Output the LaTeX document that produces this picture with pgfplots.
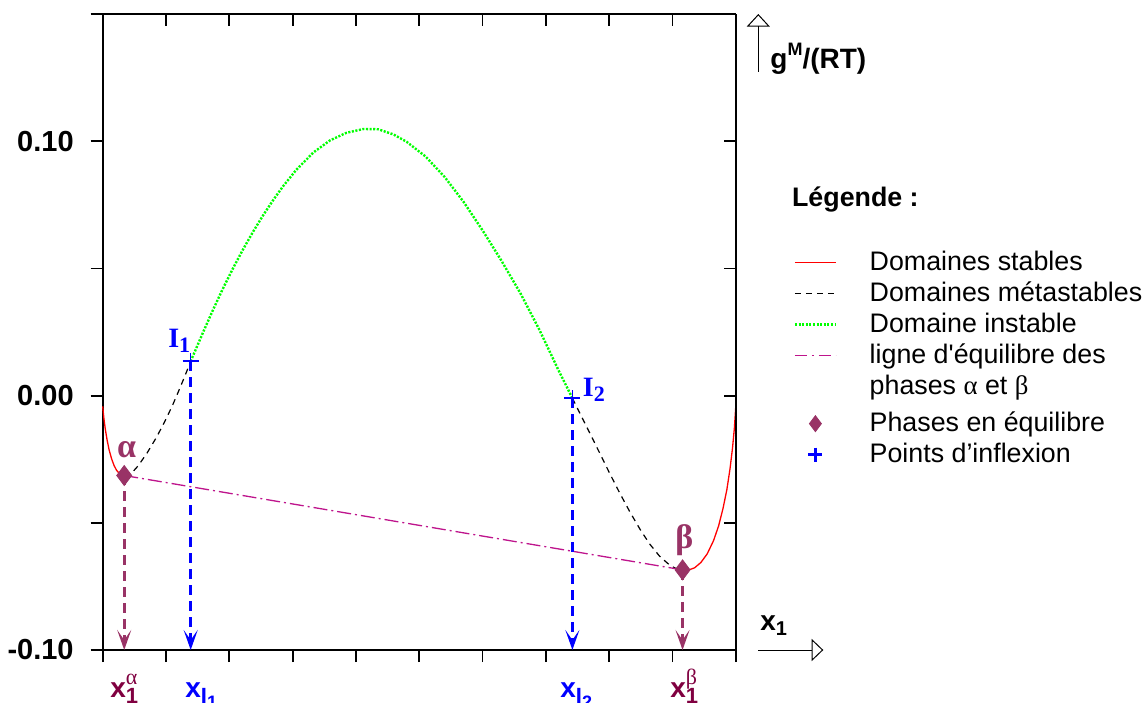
\documentclass[border=0pt]{standalone}
\usepackage{fontspec}
\setmainfont{Liberation Sans}
\newfontfamily\seriffont{Liberation Serif}
\usepackage{pgfplots}
\usepackage{pgfplotstable}
\pgfplotsset{compat=1.18}
\usetikzlibrary{arrows.meta,calc}

\definecolor{stab}{RGB}{255,0,0}
\definecolor{inst}{RGB}{0,255,0}
\definecolor{eqline}{RGB}{190,20,140}
\definecolor{phase}{RGB}{153,51,102}
\definecolor{maroonlab}{RGB}{128,0,64}

\newcommand{\subsup}[2]{\rlap{\raisebox{-3pt}{\fontsize{11}{12}\selectfont #1}}\raisebox{6.5pt}{\fontsize{11}{12}\selectfont\mdseries #2}}

\pgfplotstableread{
x y
0.000 -0.0042
0.002 -0.0092
0.004 -0.0130
0.007 -0.0175
0.010 -0.0212
0.014 -0.0248
0.018 -0.0275
0.022 -0.0294
0.026 -0.0305
0.030 -0.0311
0.034 -0.0314
}\redleft

\pgfplotstableread{
x y
0.034 -0.0314
0.040 -0.0313
0.047 -0.0301
0.056 -0.0276
0.070 -0.0226
0.085 -0.0164
0.098 -0.0102
0.110 -0.0040
0.120 0.0018
0.130 0.0078
0.139 0.0135
}\blackleft

\pgfplotstableread{
x y
0.139 0.0135
0.150 0.0199
0.160 0.0257
0.175 0.0341
0.190 0.0421
0.206 0.0501
0.222 0.0576
0.238 0.0646
0.254 0.0711
0.270 0.0771
0.285 0.0823
0.306 0.0888
0.333 0.0956
0.359 0.1003
0.385 0.1033
0.412 0.1048
0.435 0.1047
0.459 0.1027
0.480 0.0998
0.510 0.0940
0.540 0.0860
0.570 0.0762
0.600 0.0650
0.630 0.0530
0.660 0.0402
0.690 0.0258
0.720 0.0100
0.742 -0.0010
}\green

\pgfplotstableread{
x y
0.742 -0.0010
0.754 -0.0070
0.770 -0.0150
0.786 -0.0230
0.801 -0.0306
0.817 -0.0384
0.833 -0.0458
0.849 -0.0526
0.864 -0.0583
0.880 -0.0632
0.896 -0.0667
0.906 -0.0680
0.916 -0.0685
}\blackright

\pgfplotstableread{
x y
0.916 -0.0685
0.925 -0.0686
0.935 -0.0677
0.945 -0.0656
0.955 -0.0622
0.965 -0.0570
0.973 -0.0512
0.980 -0.0443
0.986 -0.0370
0.991 -0.0288
0.995 -0.0205
0.998 -0.0125
1.000 -0.0047
}\redright

\begin{document}
\begin{tikzpicture}
\begin{axis}[
  name=ax,
  scale only axis, width=316.5pt, height=318pt,
  xmin=0, xmax=1, ymin=-0.1, ymax=0.15,
  axis x line*=bottom, axis y line*=left,
  tick align=outside, major tick length=6pt,
  xtick={0,0.1,0.2,0.3,0.4,0.5,0.6,0.7,0.8,0.9,1},
  xticklabels={},
  ytick={-0.1,-0.05,0,0.05,0.1,0.15},
  yticklabels={-0.10,,0.00,,0.10,},
  yticklabel style={font=\bfseries\fontsize{14.5}{16}\selectfont, xshift=-5pt},
  axis line style={line width=0.8pt},
  every tick/.style={black, line width=0.9pt},
  clip=false,
  legend cell align=left,
  legend image code/.code={\draw[mark repeat=2,mark phase=2,#1] plot coordinates {(0pt,0pt) (10.25pt,0pt) (20.5pt,0pt)};},
  legend style={at={(1.091,0.634)}, anchor=north west, draw=none, fill=none,
    inner sep=0pt, font=\fontsize{13.4}{15}\selectfont, row sep=0pt, column sep=15.3pt,
    nodes={inner sep=1pt, text height=10.5pt, text depth=3pt}},
]
\addplot[stab, line width=0.65pt, forget plot] table {\redleft};
\addplot[stab, line width=0.65pt, forget plot] table {\redright};
\addplot[black, line width=0.6pt, dash pattern=on 3pt off 2.5pt, forget plot] table {\blackleft};
\addplot[black, line width=0.6pt, dash pattern=on 3pt off 2.5pt, forget plot] table {\blackright};
\addplot[inst, line width=1.2pt, dash pattern=on 1.05pt off 0.75pt, forget plot] table {\green};
\addplot[eqline, line width=0.65pt, dash pattern=on 7pt off 2pt on 1pt off 2pt, forget plot] coordinates {(0.034,-0.0314) (0.916,-0.0685)};
% vertical arrows
\addplot[phase, line width=1.3pt, dash pattern=on 5pt off 3pt, -{Stealth[length=10pt,width=7pt,inset=5pt]}, forget plot] coordinates {(0.034,-0.0314) (0.034,-0.1)};
\addplot[phase, line width=1.3pt, dash pattern=on 5pt off 3pt, -{Stealth[length=10pt,width=7pt,inset=5pt]}, forget plot] coordinates {(0.916,-0.0685) (0.916,-0.1)};
\addplot[blue, line width=1.3pt, dash pattern=on 5pt off 3pt, -{Stealth[length=10pt,width=7pt,inset=5pt]}, forget plot] coordinates {(0.139,0.0135) (0.139,-0.1)};
\addplot[blue, line width=1.3pt, dash pattern=on 5pt off 3pt, -{Stealth[length=10pt,width=7pt,inset=5pt]}, forget plot] coordinates {(0.742,-0.001) (0.742,-0.1)};
% points
\addplot[only marks, mark=diamond*, mark size=5pt, phase, forget plot] coordinates {(0.034,-0.0314) (0.916,-0.0685)};
\addplot[only marks, mark=+, mark size=4pt, blue, mark options={line width=0.8pt}, forget plot] coordinates {(0.139,0.0135) (0.742,-0.001)};
% point labels
\node[anchor=base west, inner sep=0pt, text=blue, font=\seriffont\bfseries\fontsize{14}{16}\selectfont] at (axis cs:0.103,0.0189) {I\raisebox{-2.5pt}{\fontsize{11}{12}\selectfont 1}};
\node[anchor=base west, inner sep=0pt, text=blue, font=\seriffont\bfseries\fontsize{14}{16}\selectfont] at (axis cs:0.758,-0.0003) {I\raisebox{-2.5pt}{\fontsize{11}{12}\selectfont 2}};
\node[anchor=base, inner sep=0pt, text=phase, font=\seriffont\bfseries\fontsize{17}{18}\selectfont] at (axis cs:0.0379,-0.0244) {α};
\node[anchor=base, inner sep=0pt, text=phase, font=\seriffont\bfseries\fontsize{17}{18}\selectfont] at (axis cs:0.919,-0.0602) {β};
% bottom labels
\node[anchor=base west, inner sep=0pt, yshift=-23.5pt, text=maroonlab, font=\bfseries\fontsize{14}{16}\selectfont] at (axis cs:0.0115,-0.1) {x\subsup{1}{\seriffont α}};
\node[anchor=base west, inner sep=0pt, yshift=-23.5pt, text=maroonlab, font=\bfseries\fontsize{14}{16}\selectfont] at (axis cs:0.896,-0.1) {x\subsup{1}{\seriffont β}};
\node[anchor=base west, inner sep=0pt, yshift=-23.5pt, text=blue, font=\bfseries\fontsize{14}{16}\selectfont] at (axis cs:0.130,-0.1) {x\raisebox{-3pt}{\fontsize{11}{12}\selectfont I\raisebox{-2.5pt}{\fontsize{9}{10}\selectfont 1}}};
\node[anchor=base west, inner sep=0pt, yshift=-23.5pt, text=blue, font=\bfseries\fontsize{14}{16}\selectfont] at (axis cs:0.7224,-0.1) {x\raisebox{-3pt}{\fontsize{11}{12}\selectfont I\raisebox{-2.5pt}{\fontsize{9}{10}\selectfont 2}}};
% legend
\addlegendimage{stab, line width=0.7pt}
\addlegendentry{Domaines stables}
\addlegendimage{black, line width=0.6pt, dash pattern=on 3pt off 2.5pt}
\addlegendentry{Domaines métastables}
\addlegendimage{inst, line width=1.2pt, dash pattern=on 1.05pt off 0.75pt}
\addlegendentry{Domaine instable}
\addlegendimage{eqline, line width=0.8pt, dash pattern=on 6pt off 2.5pt on 1pt off 2.5pt}
\addlegendentry{ligne d\textquotesingle équilibre des}
\addlegendimage{empty legend}
\addlegendentry[text depth=6pt]{phases {\seriffont α} et {\seriffont β}}
\addlegendimage{only marks, mark=diamond*, mark size=4pt, phase}
\addlegendentry{Phases en équilibre}
\addlegendimage{only marks, mark=+, mark size=3.5pt, blue, mark options={line width=1.5pt}}
\addlegendentry{Points d’inflexion}
\end{axis}
\begin{axis}[
  scale only axis, width=316.5pt, height=318pt,
  xmin=0, xmax=1, ymin=-0.1, ymax=0.15,
  axis x line*=top, axis y line*=right,
  tick align=inside, major tick length=6pt,
  xtick={0,0.1,0.2,0.3,0.4,0.5,0.6,0.7,0.8,0.9,1},
  ytick={-0.1,-0.05,0,0.05,0.1,0.15},
  xticklabels={}, yticklabels={},
  axis line style={line width=0.8pt},
  every tick/.style={black, line width=0.9pt},
]
\end{axis}
% axis labels with arrows
\draw[line width=0.5pt, -{Triangle[open,length=6.3pt,width=11.5pt]}] ($(ax.north east)+(11.3pt,-28.85pt)$) -- ($(ax.north east)+(11.3pt,0pt)$);
\node[anchor=base west, inner sep=0pt, font=\bfseries\fontsize{14}{16}\selectfont] at ($(ax.north east)+(17.15pt,-27.15pt)$) {g\raisebox{6.5pt}{\fontsize{9}{10}\selectfont M}/(RT)};
\draw[line width=0.5pt, -{Triangle[open,length=5.8pt,width=11pt]}] ($(ax.south east)+(11.3pt,0pt)$) -- ($(ax.south east)+(43.8pt,0pt)$);
\node[anchor=base west, inner sep=0pt, font=\bfseries\fontsize{14}{16}\selectfont] at ($(ax.south east)+(12.15pt,10pt)$) {x\raisebox{-2.5pt}{\fontsize{10}{12}\selectfont 1}};
\node[anchor=base west, inner sep=0pt, font=\bfseries\fontsize{13.4}{15}\selectfont] at ($(ax.north east)+(28pt,-96.35pt)$) {Légende :};
\pgfresetboundingbox
\path[use as bounding box] ($(ax.south west)+(-51.35pt,-26pt)$) rectangle ($(ax.north east)+(204.15pt,7pt)$);
\end{tikzpicture}
\end{document}
